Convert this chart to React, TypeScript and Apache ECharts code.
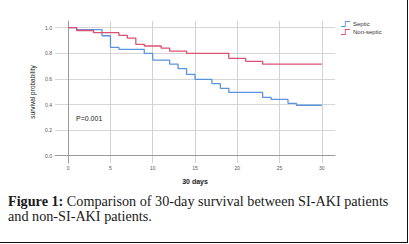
import React, { useEffect, useRef } from "react";
import * as echarts from "echarts";

const SERIES_NAMES = ["Septic", "Non-septic"];
const septicDays = [0, 1, 4, 5, 6, 9, 10, 12, 13, 14, 15, 17, 18, 19, 23, 24, 26, 27, 30];
const septicSurv = [1.0, 0.985, 0.937, 0.847, 0.831, 0.8, 0.747, 0.715, 0.68, 0.635, 0.597, 0.563, 0.526, 0.494, 0.456, 0.44, 0.409, 0.394, 0.394];
const nonSepticDays = [0, 1, 3, 6, 7, 8, 9, 11, 12, 14, 19, 21, 23, 30];
const nonSepticSurv = [1.0, 0.978, 0.961, 0.94, 0.918, 0.87, 0.857, 0.84, 0.817, 0.8, 0.76, 0.737, 0.715, 0.715];
const X_TICK_MIN = 0;
const X_TICK_MAX = 30;
const X_TICK_STEP = 5;
const Y_TICK_MIN = 0;
const Y_TICK_MAX = 1;
const Y_TICK_STEP = 0.2;
const P_VALUE_TEXT = "P=0.001";
const X_NAME = "30 days";
const Y_NAME = "survival probability";
const CAPTION_BOLD = "Figure 1:";
const CAPTION_LINE1 = " Comparison of 30-day survival between SI-AKI patients";
const CAPTION_LINE2 = "and non-SI-AKI patients.";

const BLUE = "#5a94e0";
const RED = "#da5272";

// plot geometry (pixels)
const FRAME_L = 55, FRAME_T = 21, FRAME_W = 280, FRAME_H = 142;
const D0 = 68.2, D30 = 321.8;
const V1 = 27.7, V0 = 155.7;
const pxPerDay = (D30 - D0) / (X_TICK_MAX - X_TICK_MIN);
const pxPerUnit = (V0 - V1) / (Y_TICK_MAX - Y_TICK_MIN);
const FRAME_XMIN = X_TICK_MIN - (D0 - FRAME_L) / pxPerDay;
const FRAME_XMAX = X_TICK_MAX + (FRAME_L + FRAME_W - D30) / pxPerDay;
const FRAME_YMIN = Y_TICK_MIN - (FRAME_T + FRAME_H - V0) / pxPerUnit;
const FRAME_YMAX = Y_TICK_MAX + (V1 - FRAME_T) / pxPerUnit;

const SANS = "Liberation Sans, Arial, sans-serif";
const SERIF = "Liberation Serif, Times New Roman, serif";

export default function App() {
  const ref = useRef<HTMLDivElement>(null);
  useEffect(() => {
    if (!ref.current) return;
    const chart = echarts.init(ref.current, undefined, { renderer: "svg" });
    const hidden = { show: false };
    chart.setOption({
      animation: false,
      backgroundColor: "#ffffff",
      grid: [
        { left: FRAME_L, top: FRAME_T, width: FRAME_W, height: FRAME_H },
        { left: D0, top: FRAME_T, width: D30 - D0, height: FRAME_H },
        { left: FRAME_L, top: V1, width: FRAME_W, height: V0 - V1 },
      ],
      xAxis: [
        {
          type: "value", gridIndex: 0, min: FRAME_XMIN, max: FRAME_XMAX,
          axisLine: { show: true, lineStyle: { color: "#9a9a9a", width: 1 } },
          axisTick: hidden, axisLabel: hidden, splitLine: hidden,
          name: X_NAME, nameLocation: "middle", nameGap: 15,
          nameTextStyle: { fontFamily: SANS, fontSize: 7, fontWeight: "bold", color: "#222" },
        },
        {
          type: "value", gridIndex: 1, min: X_TICK_MIN, max: X_TICK_MAX, interval: X_TICK_STEP,
          axisLine: hidden, axisTick: hidden,
          axisLabel: { fontFamily: SANS, fontSize: 5, color: "#555", margin: 2 },
          splitLine: { show: true, lineStyle: { color: "#d2d2d2", width: 1 } },
        },
        {
          type: "value", gridIndex: 2, min: FRAME_XMIN, max: FRAME_XMAX,
          axisLine: hidden, axisTick: hidden, axisLabel: hidden, splitLine: hidden,
        },
      ],
      yAxis: [
        {
          type: "value", gridIndex: 0, min: FRAME_YMIN, max: FRAME_YMAX,
          axisLine: { show: true, lineStyle: { color: "#9a9a9a", width: 1 } },
          axisTick: hidden, axisLabel: hidden, splitLine: hidden,
          name: Y_NAME, nameLocation: "middle", nameGap: 19,
          nameTextStyle: { fontFamily: SANS, fontSize: 6.5, color: "#222" },
        },
        {
          type: "value", gridIndex: 1, min: FRAME_YMIN, max: FRAME_YMAX,
          axisLine: hidden, axisTick: hidden, axisLabel: hidden, splitLine: hidden,
        },
        {
          type: "value", gridIndex: 2, min: Y_TICK_MIN, max: Y_TICK_MAX, interval: Y_TICK_STEP,
          axisLine: hidden, axisTick: hidden,
          axisLabel: { fontFamily: SANS, fontSize: 5, color: "#555", margin: 3, formatter: (v: number) => v.toFixed(1) },
          splitLine: { show: true, lineStyle: { color: "#d6d6d6", width: 1 } },
        },
      ],
      legend: {
        data: SERIES_NAMES,
        orient: "vertical",
        left: 341,
        top: 21,
        padding: 0,
        itemGap: 2,
        itemWidth: 13,
        itemHeight: 6,
        icon: "path://M0,9 L6,9 L6,1 L14,1 L14,2.4 L7.4,2.4 L7.4,10.4 L0,10.4 Z",
        itemStyle: { borderWidth: 0 },
        textStyle: { fontFamily: SANS, fontSize: 6, color: "#333", padding: [0, 0, 0, -4] },
      },
      series: [
        {
          name: SERIES_NAMES[0], type: "line", step: "end", xAxisIndex: 0, yAxisIndex: 0,
          symbol: "none", color: BLUE, lineStyle: { color: BLUE, width: 1.3 },
          data: septicDays.map((d, i) => [d, septicSurv[i]]),
        },
        {
          name: SERIES_NAMES[1], type: "line", step: "end", xAxisIndex: 0, yAxisIndex: 0,
          symbol: "none", color: RED, lineStyle: { color: RED, width: 1.3 },
          data: nonSepticDays.map((d, i) => [d, nonSepticSurv[i]]),
        },
      ],
      graphic: [
        {
          type: "text", left: 76, top: 115,
          style: { text: P_VALUE_TEXT, fontFamily: SANS, fontSize: 7, fill: "#222" },
        },
        {
          type: "text", left: 8, top: 194,
          style: {
            text: "{b|" + CAPTION_BOLD + "}{n|" + CAPTION_LINE1 + "}\n{n|" + CAPTION_LINE2 + "}",
            rich: {
              b: { fontFamily: SERIF, fontSize: 14.2, fontWeight: "bold", fill: "#1a1a1a", lineHeight: 15 },
              n: { fontFamily: SERIF, fontSize: 14.2, fill: "#1a1a1a", lineHeight: 15 },
            },
          },
        },
        {
          type: "line", shape: { x1: 407.5, y1: 0, x2: 407.5, y2: 243 },
          style: { stroke: "#111", lineWidth: 1 },
        },
        {
          type: "line", shape: { x1: 0, y1: 242.5, x2: 408, y2: 242.5 },
          style: { stroke: "#111", lineWidth: 1 },
        },
      ],
    });
    return () => chart.dispose();
  }, []);
  return (
    <div
      ref={ref}
      style={{ position: "fixed", left: 0, top: 0, width: 409, height: 244, background: "#fff" }}
    />
  );
}
